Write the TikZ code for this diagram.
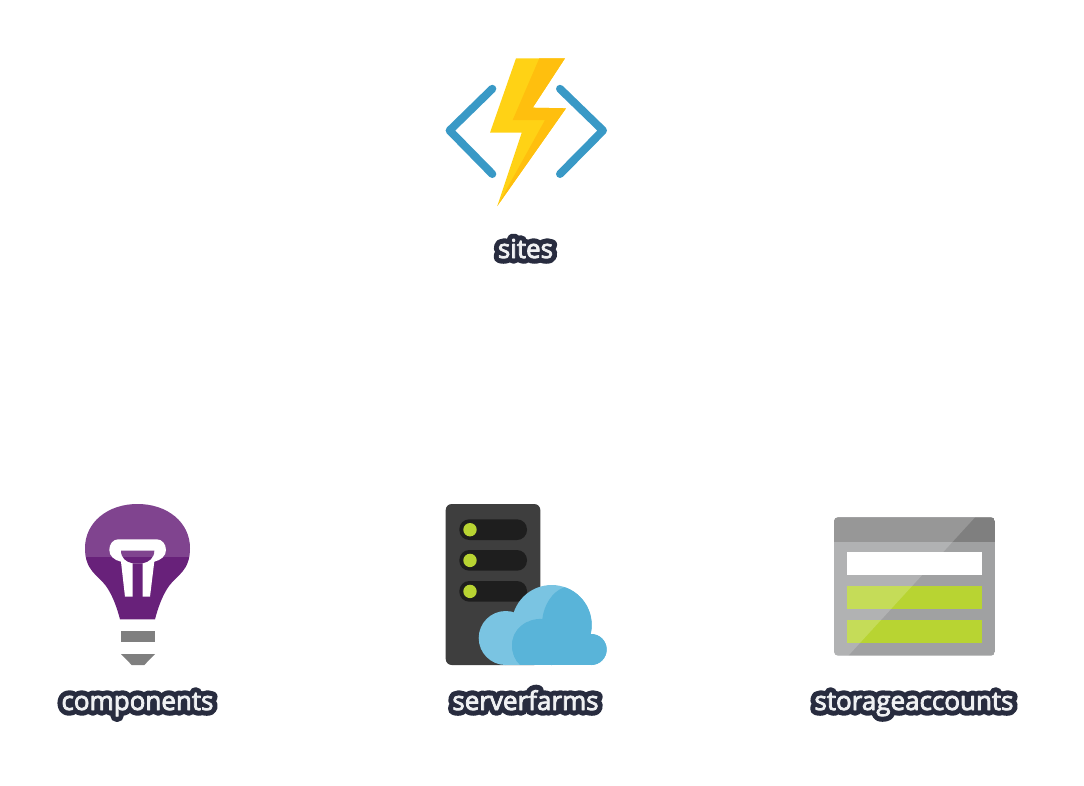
\documentclass[tikz,border=0pt]{standalone}
\usepackage{fontspec}
\setmainfont{Open Sans}
\definecolor{halo}{HTML}{282C3F}
\definecolor{labeltext}{HTML}{F0F1F3}
\definecolor{boltlight}{HTML}{FFD215}
\definecolor{boltdark}{HTML}{FFBF0E}
\definecolor{chevron}{HTML}{3999C6}
\definecolor{bulb}{HTML}{68217A}
\definecolor{basegrey}{HTML}{7F7F7F}
\definecolor{server}{HTML}{3E3E3E}
\definecolor{slot}{HTML}{1E1E1E}
\definecolor{led}{HTML}{B8D432}
\definecolor{cloudlight}{HTML}{7AC4E2}
\definecolor{clouddark}{HTML}{59B4D9}
\definecolor{storebody}{HTML}{A0A1A2}
\definecolor{storehead}{HTML}{7F7F7F}
\newcommand{\halotext}[1]{\leavevmode\rlap{\special{pdf:code q 1 Tr 11 w 1 j 1 J 0.157 0.173 0.247 RG}\textcolor{halo}{#1}\special{pdf:code Q}}\special{pdf:code q 2 Tr 0.8 w 1 j 0.157 0.173 0.247 RG}\textcolor{labeltext}{#1}\special{pdf:code Q}}
\tikzset{
  iconlabel/.style={inner sep=0pt,font=\fontsize{26}{30}\selectfont,anchor=base},
  chev/.style={draw=chevron,line width=8pt,line cap=round,line join=round},
}
\begin{document}
\begin{tikzpicture}[x=1pt,y=-1pt]
\useasboundingbox (0,0) rectangle (1084,785);
% sites icon
\draw[chev] (492.3,88.8) -- (449.6,130.5) -- (492.3,174);
\draw[chev] (560,88.8) -- (603,130.5) -- (560,174);
\fill[boltlight] (516,58.3) -- (565,58.3) -- (532.7,107.7) -- (566,108.3) -- (497.3,206) -- (521.7,132.7) -- (490,132.7) -- cycle;
\fill[boltdark] (539.3,58.3) -- (565,58.3) -- (532.7,107.7) -- (566,108.3) -- (497.3,206) -- (545,120) -- (512.7,120) -- cycle;
% components icon
\fill[bulb] (120,619.3) .. controls (117,608) and (113,596) .. (106,586) .. controls (98,575) and (85,571) .. (85,548.3) .. controls (85,522) and (108,504) .. (137.5,504) .. controls (167,504) and (190,522) .. (190,548.3) .. controls (190,571) and (177,575) .. (169,586) .. controls (162,596) and (158,608) .. (155,619.3) -- cycle;
\fill[white] (121,561.7) .. controls (114,560) and (109.3,556) .. (109.3,550) .. controls (109.3,544) and (113,539.3) .. (118.3,539.3) -- (156.7,539.3) .. controls (162,539.3) and (166,544) .. (166,550) .. controls (166,556) and (161,560) .. (154.3,561.7) -- (150,596.7) -- (142.7,596.7) -- (142.7,563.3) -- (132.7,563.3) -- (132.7,596.7) -- (125,596.7) -- cycle;
\fill[bulb] (121,550.7) -- (154.3,550.7) .. controls (154.3,558) and (149,562) .. (142.7,563.3) -- (132.7,563.3) .. controls (126,562) and (121,558) .. (121,550.7) -- cycle;
\begin{scope}
\clip (120,619.3) .. controls (117,608) and (113,596) .. (106,586) .. controls (98,575) and (85,571) .. (85,548.3) .. controls (85,522) and (108,504) .. (137.5,504) .. controls (167,504) and (190,522) .. (190,548.3) .. controls (190,571) and (177,575) .. (169,586) .. controls (162,596) and (158,608) .. (155,619.3) -- cycle;
\fill[white,opacity=.16] (80,500) rectangle (195,556.7);
\end{scope}
\fill[basegrey] (121,631) rectangle (155.3,641.7);
\fill[basegrey] (121,654) -- (155,654) -- (144.3,665) -- (131.7,665) -- cycle;
% serverfarms icon
\fill[server,rounded corners=6pt] (445.7,504) rectangle (540.3,665);
\foreach \y in {519.3,550,581}{
  \fill[slot,rounded corners=10pt] (459.3,\y) rectangle (527,\y+20.7);
  \fill[led] (470,\y+10.4) circle[radius=6.7];
}
\fill[cloudlight] (505.7,638) circle[radius=27];
\fill[cloudlight] (551.7,625) circle[radius=40];
\fill[cloudlight] (591.2,649.5) circle[radius=15.5];
\fill[cloudlight] (505.7,640) rectangle (591.2,665);
\begin{scope}
\clip (563.3,587.7) .. controls (552,592) and (544,605) .. (542.3,619) .. controls (526,618) and (512,630) .. (512,645) .. controls (512,653) and (515,660) .. (520,665) -- (620,665) -- (620,570) -- cycle;
\fill[clouddark] (505.7,638) circle[radius=27];
\fill[clouddark] (551.7,625) circle[radius=40];
\fill[clouddark] (591.2,649.5) circle[radius=15.5];
\fill[clouddark] (505.7,640) rectangle (591.2,665);
\end{scope}
% storageaccounts icon
\begin{scope}
\clip[rounded corners=4pt] (834,517.3) rectangle (995,655.7);
\fill[storebody] (834,517.3) rectangle (995,655.7);
\fill[storehead] (834,517.3) rectangle (995,541.7);
\fill[led] (846.7,586.3) rectangle (982.3,609);
\fill[led] (846.7,620) rectangle (982.3,642.7);
\fill[white,opacity=.19] (830,517.3) -- (975,517.3) -- (848.3,655.7) -- (830,655.7) -- cycle;
\end{scope}
\fill[white] (846.7,552.3) rectangle (982.3,575);
% labels
\node[iconlabel] (sites) at (525.5,258) {\halotext{sites}};
\node[iconlabel] (components) at (137.5,710) {\halotext{components}};
\node[iconlabel] (serverfarms) at (525.5,710) {\halotext{serverfarms}};
\node[iconlabel] (storageaccounts) at (914,710) {\halotext{storageaccounts}};
\end{tikzpicture}
\end{document}
